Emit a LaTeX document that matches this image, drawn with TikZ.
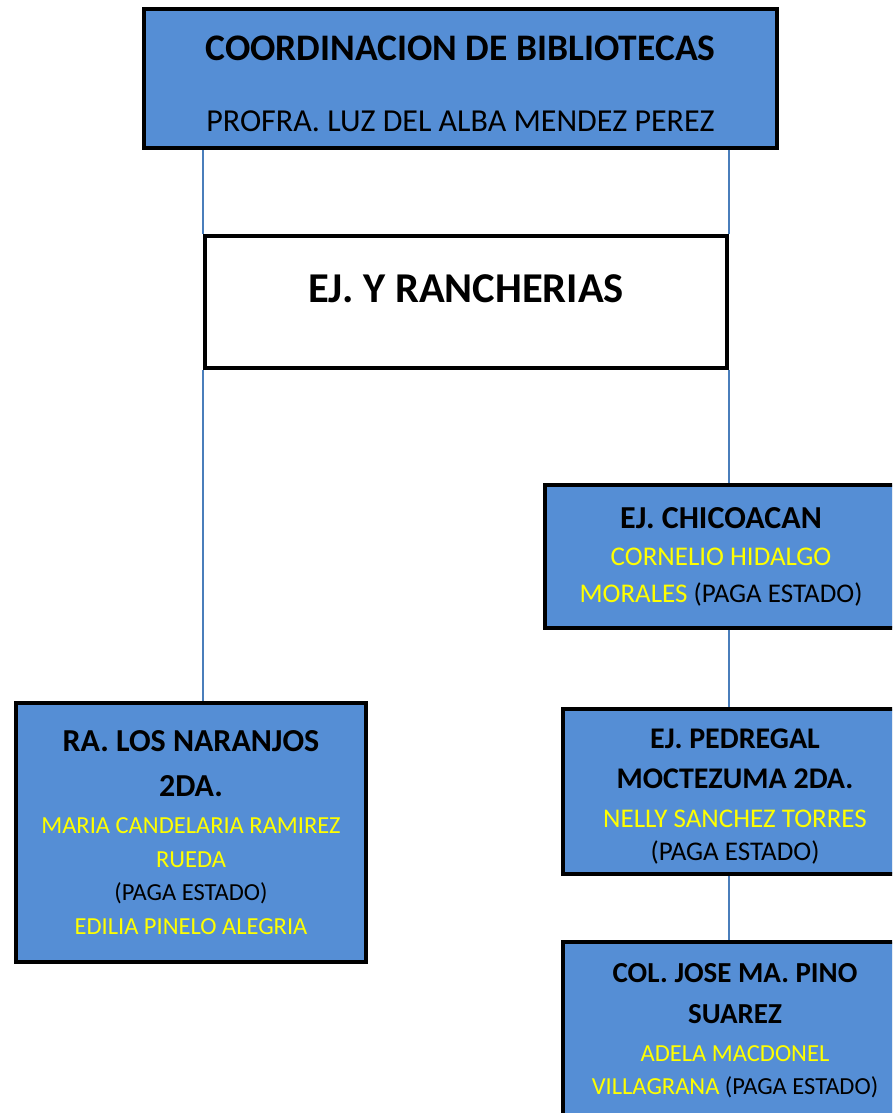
\documentclass[tikz,border=0pt]{standalone}
\usepackage{fontspec}
\setmainfont{Carlito}
\usetikzlibrary{shadows}
\definecolor{boxblue}{HTML}{558ED5}
\definecolor{linkblue}{HTML}{4A7EBB}
\definecolor{nameyellow}{HTML}{FFFF00}
\newcommand{\ttl}[2]{{\bfseries\fontsize{#1}{33}\selectfont #2}}
\newcommand{\nm}[1]{\textcolor{nameyellow}{#1}}
\tikzset{
  orgbox/.style={draw=black, line width=4pt, fill=boxblue, align=center, inner sep=0pt,
     drop shadow={shadow xshift=1.5pt, shadow yshift=-1.5pt, opacity=0.35}},
  whitebox/.style={draw=black, line width=4pt, fill=white, align=center, inner sep=0pt},
  link/.style={draw=linkblue, line width=1.2pt}
}
\begin{document}
\begin{tikzpicture}[x=1pt,y=1pt]
\clip (0,0) rectangle (892,-1113);
\fill[white] (0,0) rectangle (892,-1113);
% boxes
\node[orgbox, minimum width=633pt, minimum height=139pt, font=\fontsize{32}{33}\selectfont] (top) at (460.5,-78.5)
  {\rule{0pt}{36pt}{\bfseries\fontsize{37.5}{33}\selectfont COORDINACION DE BIBLIOTECAS}\\[38pt] PROFRA. LUZ DEL ALBA MENDEZ PEREZ};
\node[whitebox, minimum width=522pt, minimum height=132pt, font=\bfseries\fontsize{42.5}{44}\selectfont] (ej) at (466,-302) {\raisebox{0pt}[0pt][0pt]{EJ. Y RANCHERIAS}};
\node[orgbox, minimum width=352pt, minimum height=143pt, font=\fontsize{27}{37}\selectfont] (chic) at (721,-556.5)
  {\ttl{32}{EJ. CHICOACAN}\\ \nm{CORNELIO HIDALGO}\\ \nm{MORALES} (PAGA ESTADO)};
\node[orgbox, minimum width=350pt, minimum height=259pt, font=\fontsize{24.5}{33.5}\selectfont] (nar) at (191,-832.5)
  {\ttl{32}{RA. LOS NARANJOS}\\[11.5pt] \ttl{32}{2DA.}\\[3.5pt] \nm{MARIA CANDELARIA RAMIREZ}\\ \nm{RUEDA}\\ (PAGA ESTADO)\\ \nm{EDILIA PINELO ALEGRIA}};
\node[orgbox, minimum width=344pt, minimum height=165pt, font=\fontsize{27}{33}\selectfont] (ped) at (735,-791.5)
  {\rule{0pt}{30pt}\ttl{30}{EJ. PEDREGAL}\\[7pt] \ttl{30}{MOCTEZUMA 2DA.}\\[6pt] \nm{NELLY SANCHEZ TORRES}\\ (PAGA ESTADO)};
\node[orgbox, minimum width=344pt, minimum height=177pt, font=\fontsize{24.5}{33}\selectfont] (pino) at (735,-1030.5)
  {\ttl{29}{COL. JOSE MA. PINO}\\[8pt] \ttl{29}{SUAREZ}\\[5pt] \nm{ADELA MACDONEL}\\ \nm{VILLAGRANA} (PAGA ESTADO)};
% connectors
\draw[link] (ej.west |- top.south) -- (ej.west |- ej.north);
\draw[link] (ej.west |- ej.south) -- (ej.west |- nar.north);
\draw[link] (ej.east |- top.south) -- (ej.east |- ej.north);
\draw[link] (ej.east |- ej.south) -- (ej.east |- chic.north);
\draw[link] (ej.east |- chic.south) -- (ej.east |- ped.north);
\draw[link] (ej.east |- ped.south) -- (ej.east |- pino.north);
\end{tikzpicture}
\end{document}
